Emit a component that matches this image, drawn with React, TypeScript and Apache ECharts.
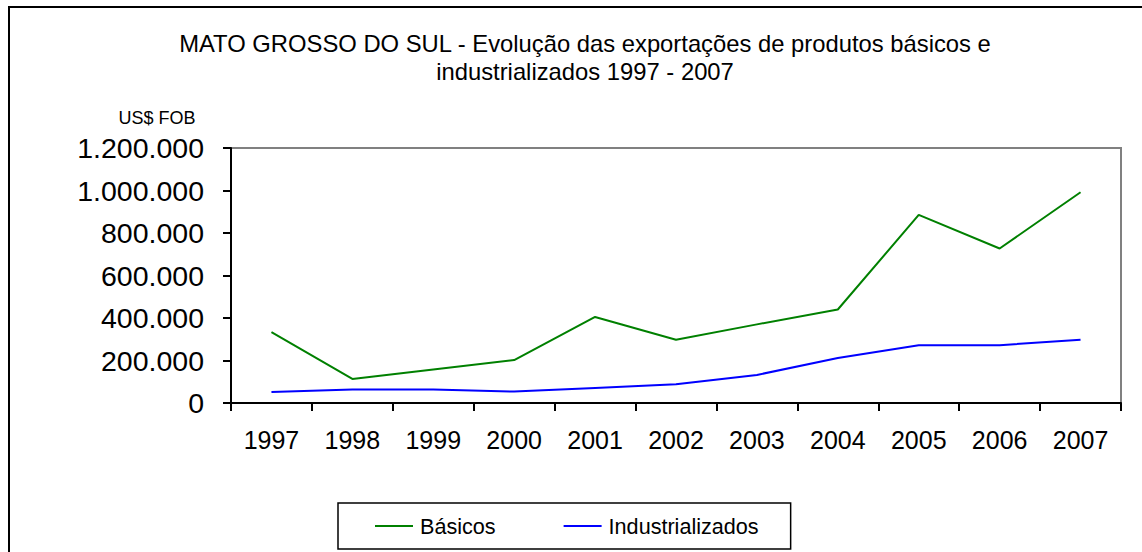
import React, { useEffect, useRef } from "react";
import * as echarts from "echarts";

const years = ["1997", "1998", "1999", "2000", "2001", "2002", "2003", "2004", "2005", "2006", "2007"];
const basicos = [334000, 113000, 158000, 202000, 405000, 298000, 370000, 440000, 885000, 727000, 992000];
const industrializados = [52000, 63000, 63000, 54000, 71000, 88000, 132000, 212000, 272000, 272000, 298000];
const yTicks = { min: 0, max: 1200000, interval: 200000 };
const titleLines = [
  "MATO GROSSO DO SUL - Evolução das exportações de produtos básicos e",
  "industrializados 1997 - 2007",
];
const unitLabel = "US$ FOB";
const seriesNames = ["Básicos", "Industrializados"];

const FONT = "'Liberation Sans', Arial, sans-serif";

function fmt(v: number): string {
  return String(v).replace(/\B(?=(\d{3})+(?!\d))/g, ".");
}

export default function App() {
  const ref = useRef<HTMLDivElement>(null);
  useEffect(() => {
    if (!ref.current) return;
    const chart = echarts.init(ref.current, undefined, { renderer: "svg" });
    chart.setOption({
      animation: false,
      backgroundColor: "#ffffff",
      textStyle: { fontFamily: FONT },
      title: {
        text: titleLines.join("\n"),
        left: 580,
        top: 24,
        textAlign: "center",
        textStyle: { fontFamily: FONT, fontSize: 23.8, fontWeight: "normal", color: "#000", lineHeight: 28 },
      },
      graphic: [
        {
          type: "rect",
          shape: { x: 9, y: 7, width: 1300, height: 700 },
          style: { fill: "none", stroke: "#000", lineWidth: 2 },
          silent: true,
        },
        {
          type: "text",
          x: 157,
          y: 118,
          style: {
            text: unitLabel,
            fontFamily: FONT,
            fontSize: 18,
            fill: "#000",
            align: "center",
            verticalAlign: "middle",
          },
        },
      ],
      legend: {
        left: 338,
        top: 503,
        orient: "horizontal",
        borderColor: "#000",
        borderWidth: 1.5,
        padding: [12, 32, 12, 37],
        itemGap: 68,
        itemWidth: 38,
        itemHeight: 2,
        icon: "rect",
        textStyle: { fontFamily: FONT, fontSize: 21.6, color: "#000", padding: [0, 0, 0, 2] },
        data: seriesNames,
      },
      grid: {
        left: 231,
        top: 148,
        right: 21,
        bottom: 149,
        show: true,
        borderColor: "#808080",
        borderWidth: 2,
        containLabel: false,
      },
      xAxis: {
        type: "category",
        data: years,
        boundaryGap: true,
        axisLine: { show: true, lineStyle: { color: "#000", width: 2 } },
        axisTick: { show: true, length: 8, lineStyle: { color: "#000", width: 2 } },
        axisLabel: { margin: 24, fontSize: 25, color: "#000", fontFamily: FONT },
        splitLine: { show: false },
      },
      yAxis: {
        type: "value",
        min: yTicks.min,
        max: yTicks.max,
        interval: yTicks.interval,
        axisLine: { show: true, lineStyle: { color: "#000", width: 2 } },
        axisTick: { show: true, length: 8, lineStyle: { color: "#000", width: 2 } },
        axisLabel: { margin: 27, fontSize: 28.5, color: "#000", fontFamily: FONT, formatter: (v: number) => fmt(v) },
        splitLine: { show: false },
      },
      series: [
        {
          name: seriesNames[0],
          type: "line",
          data: basicos,
          symbol: "none",
          color: "#008000",
          lineStyle: { color: "#008000", width: 2 },
        },
        {
          name: seriesNames[1],
          type: "line",
          data: industrializados,
          symbol: "none",
          color: "#0000ff",
          lineStyle: { color: "#0000ff", width: 2 },
        },
      ],
    });
    return () => chart.dispose();
  }, []);
  return (
    <div
      ref={ref}
      style={{ position: "fixed", left: 0, top: 0, width: 1142, height: 552, background: "#fff" }}
    />
  );
}
